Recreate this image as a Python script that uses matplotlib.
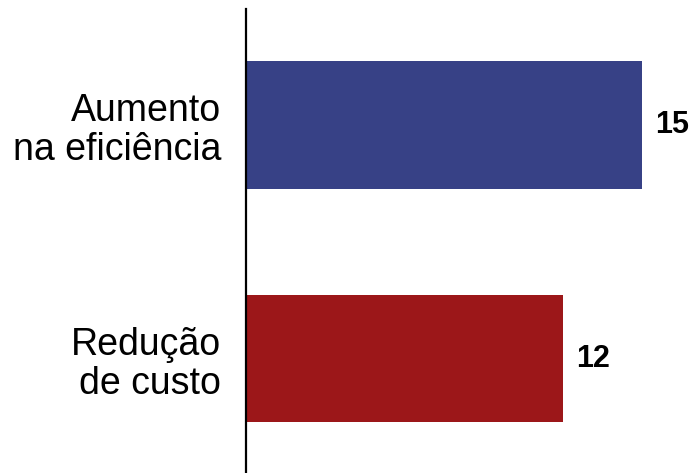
import matplotlib.pyplot as plt

plt.rcParams['font.family'] = ['Liberation Sans', 'DejaVu Sans']

# Data (bottom to top)
categories = ['Redução\nde custo', 'Aumento\nna eficiência']
values = [12, 15]
colors = ['#9c1719', '#374186']

fig = plt.figure(figsize=(6.92, 4.73), dpi=100)
ax = fig.add_axes([246 / 692, 0, 1 - 246 / 692, 1 - 9 / 473])

ypos = range(len(categories))
ax.barh(ypos, values, height=0.545, color=colors)

for y, v in zip(ypos, values):
    ax.text(v + 0.5, y, str(v), va='center', ha='left',
            fontsize=22, fontweight='bold', color='black')

ax.set_xlim(0, (692 - 246) / 26.4)
ax.set_ylim(-0.49, 1.497)
ax.set_yticks(list(ypos))
ax.set_yticklabels(categories, fontsize=27, linespacing=1.12)
ax.tick_params(axis='y', length=0, pad=18)
ax.set_xticks([])

for side in ['top', 'right', 'bottom']:
    ax.spines[side].set_visible(False)
ax.spines['left'].set_linewidth(1.6)

fig.savefig('out.png', dpi=100)
